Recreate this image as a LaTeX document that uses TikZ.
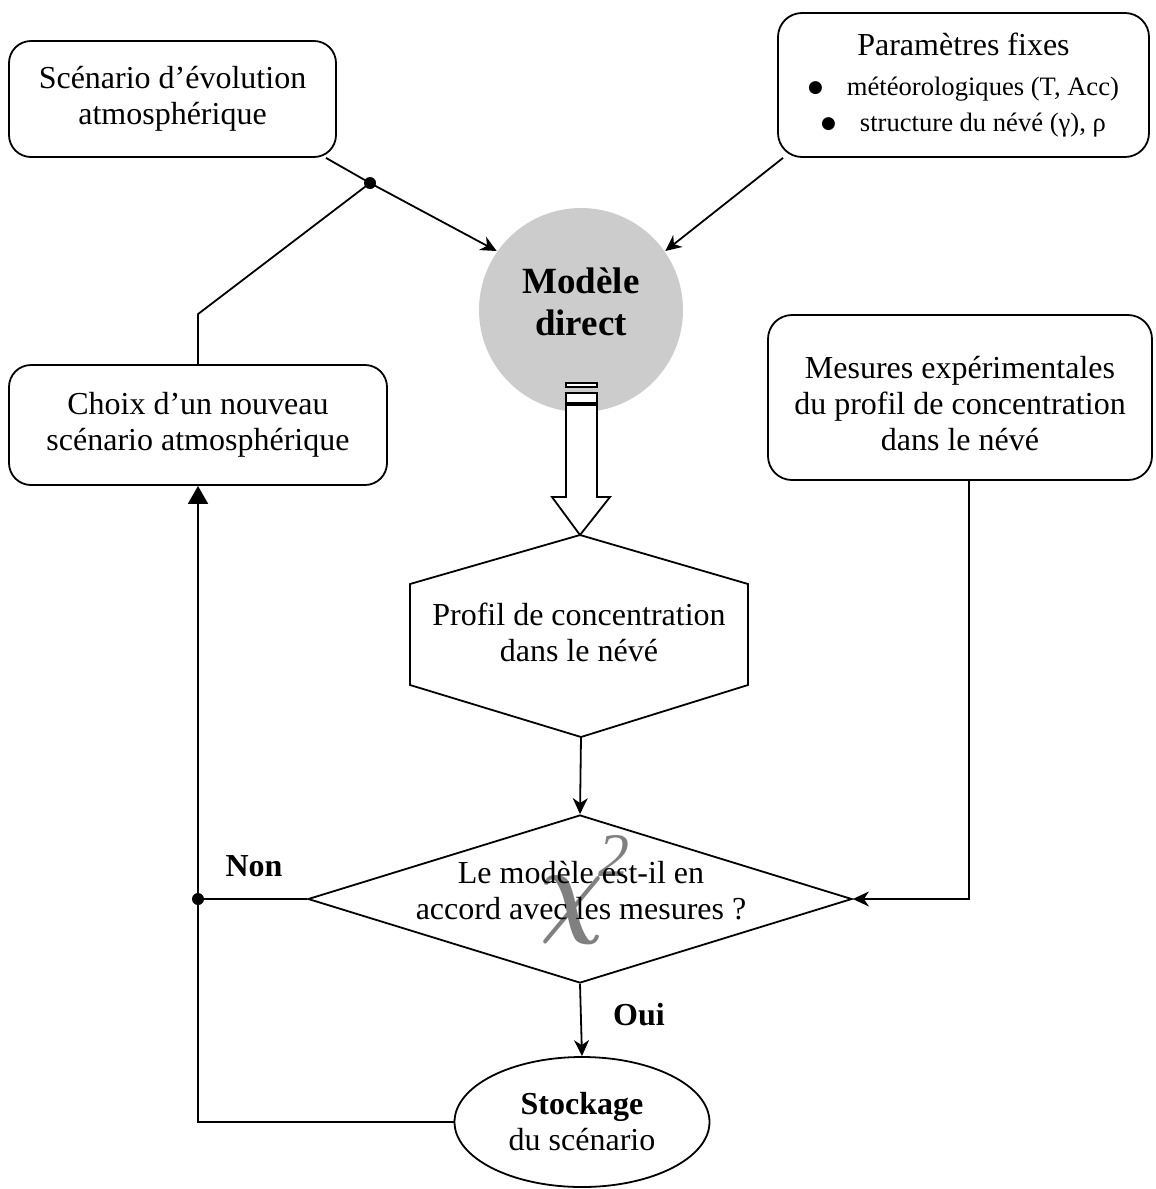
\documentclass[tikz,border=0pt]{standalone}
\usepackage{fontspec}
\setmainfont{Liberation Serif}
\newfontfamily\symbfont{DejaVu Sans}
\usetikzlibrary{arrows.meta, shapes.geometric}

\newcommand{\puce}{\raisebox{1.6pt}{\symbfont\fontsize{8.5}{8.5}\selectfont ●}\hspace{12pt}}

\begin{document}
\begin{tikzpicture}[
        x=0.5pt, y=-0.5pt, % une unité = un pixel de la figure
        line width=0.9pt,
        texte/.style={align=center, font=\fontsize{16}{18}\selectfont},
        boite/.style={texte, draw, rounded corners=11pt, inner sep=0pt}, % boîtes arrondies
        fleche/.style={-{Stealth[length=8pt, width=7.5pt, inset=2.5pt]}},
        gras/.style={font=\fontsize{16}{18}\selectfont\bfseries},
    ]
    \useasboundingbox (0,0) rectangle (1156,1189);

    % entrées du modèle
    \node[boite, minimum width=163.5pt, minimum height=58pt] (scen) at (172.5,99) {Scénario d’évolution\\atmosphérique};
    \node[boite, minimum width=185.5pt, minimum height=72pt, rounded corners=12pt] (param) at (963.5,85)
        {Paramètres fixes\\[2pt]
         {\fontsize{13.3}{18}\selectfont\puce météorologiques (T, Acc)}\\
         {\fontsize{13.3}{18}\selectfont\puce structure du névé (γ), ρ}};
    \node[circle, fill=black!20, minimum size=102pt, inner sep=0pt] (modele) at (581,310) {};
    \node[align=center, font=\fontsize{18.5}{21}\selectfont\bfseries] (modeletxt) at (581,302) {Modèle\\direct};
    \node[boite, minimum width=189pt, minimum height=60pt] (choix) at (198,425) {Choix d’un nouveau\\scénario atmosphérique};
    \node[boite, minimum width=192pt, minimum height=82.5pt, rounded corners=12pt] (mesures) at (960,397.5) {};
    \node[texte] (mesurestxt) at (960,404) {Mesures expérimentales\\du profil de concentration\\dans le névé};

    % flèche creuse vers le profil
    \coordinate (profil-n) at (580,535);
    \coordinate (profil-s) at (581,737);
    \draw[fill=white] (566,383) rectangle (597,387);
    \draw[fill=white] (566,393) rectangle (597,403);
    \draw[fill=white] (566,405) -- (566,497) -- (552,497) -- (profil-n) -- (610,497) -- (597,497) -- (597,405) -- cycle;

    % profil calculé (hexagone)
    \draw (profil-n) -- (748,584) -- (748,685) -- (profil-s) -- (410,685) -- (410,584) -- cycle;
    \node[texte] (profil) at (579,632) {Profil de concentration\\dans le névé};

    % test du chi2
    \node[diamond, draw, minimum width=272pt, minimum height=84pt, inner sep=0pt] (accord) at (580,899) {};
    \node[text=black!50, font=\normalsize, inner sep=0pt] (chi) at (572,910) {\scalebox{4.4}[5.3]{\boldmath$\chi$}};
    \node[text=black!50, font=\fontsize{31}{31}\selectfont\itshape] (chideux) at (614,856) {2};
    \node[texte] (accordtxt) at (581,891) {Le modèle est-il en\\accord avec les mesures ?};

    \node[ellipse, draw, minimum width=127.5pt, minimum height=65pt, inner sep=0pt, texte] (stockage) at (582,1122)
        {{\bfseries Stockage}\\du scénario};

    \node[gras] (non) at (254,866) {Non};
    \node[gras] (oui) at (639,1015) {Oui};

    % liaisons
    \coordinate (jonction) at (370,183);
    \coordinate (noeud) at (198,899);
    \draw[fleche] (scen.-21) -- (jonction) -- (modele.145);
    \draw (choix.north) -- ++(0,-50) -- (jonction);
    \draw[fleche] (param.202) -- (modele.35);
    \draw[fleche] (profil-s) -- (accord.north);
    \draw[fleche] (accord.south) -- (stockage.north);
    \draw (accord.west) -- (noeud);
    \draw[-{Triangle[length=9pt, width=10pt]}] (stockage.west) -| (choix.south);
    \draw[fleche] ([xshift=4.5pt]mesures.south) |- (accord.east);
    \fill (jonction) circle (3pt);
    \fill (noeud) circle (3pt);
\end{tikzpicture}
\end{document}
